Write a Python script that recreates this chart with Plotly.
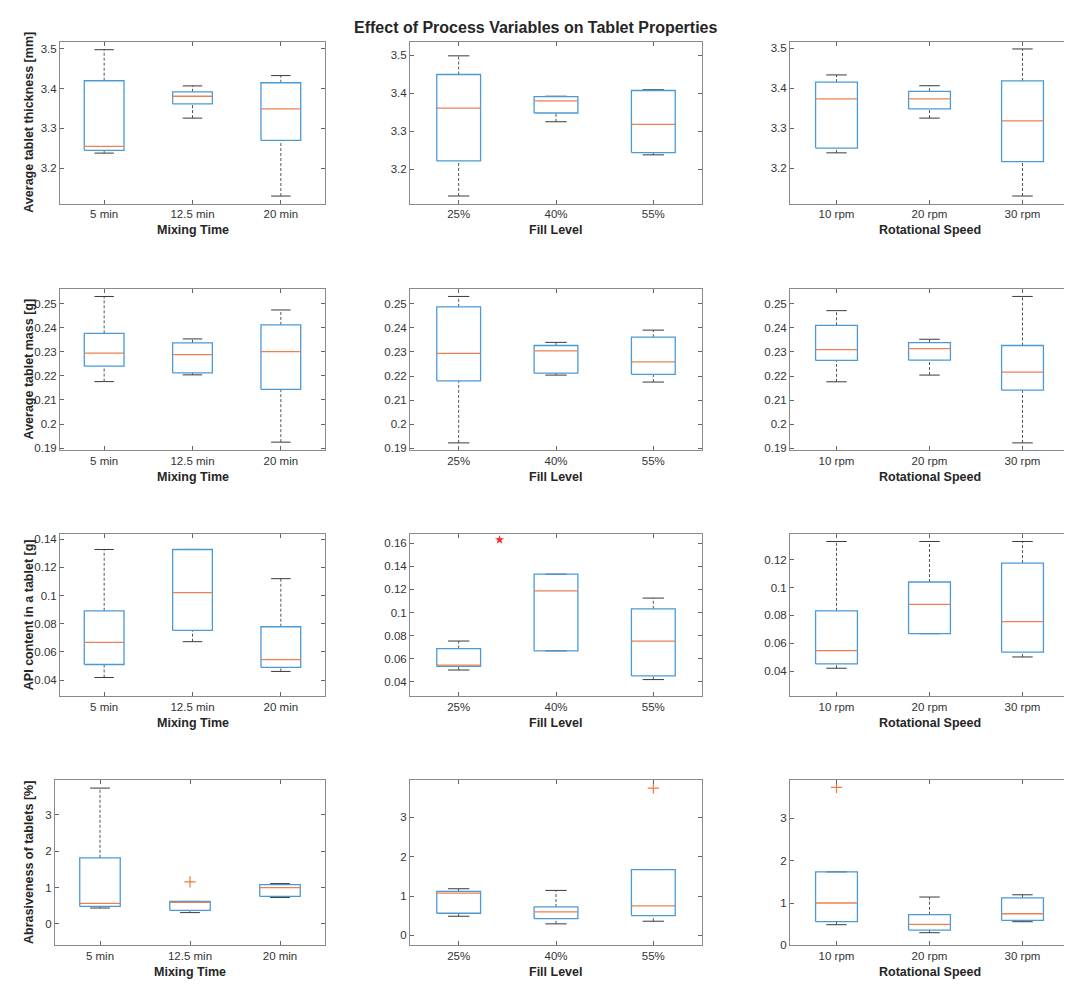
import plotly.graph_objects as go

# ---------------- data ----------------
mix_cats = ["5 min", "12.5 min", "20 min"]
fill_cats = ["25%", "40%", "55%"]
speed_cats = ["10 rpm", "20 rpm", "30 rpm"]

# each row: [lower whisker, Q1, median, Q3, upper whisker]
thick_mix = [[3.238, 3.245, 3.255, 3.420, 3.498],
             [3.326, 3.362, 3.381, 3.392, 3.407],
             [3.130, 3.270, 3.349, 3.415, 3.433]]
thick_fill = [[3.130, 3.222, 3.361, 3.449, 3.498],
              [3.325, 3.348, 3.380, 3.391, 3.392],
              [3.238, 3.244, 3.318, 3.407, 3.409]]
thick_speed = [[3.238, 3.250, 3.373, 3.415, 3.433],
               [3.325, 3.348, 3.373, 3.392, 3.406],
               [3.130, 3.216, 3.318, 3.418, 3.498]]

mass_mix = [[0.2176, 0.2240, 0.2294, 0.2376, 0.2529],
            [0.2204, 0.2212, 0.2288, 0.2337, 0.2353],
            [0.1925, 0.2144, 0.2300, 0.2411, 0.2473]]
mass_fill = [[0.1922, 0.2180, 0.2294, 0.2488, 0.2531],
             [0.2204, 0.2212, 0.2305, 0.2327, 0.2340],
             [0.2175, 0.2207, 0.2259, 0.2362, 0.2391]]
mass_speed = [[0.2176, 0.2265, 0.2310, 0.2411, 0.2472],
              [0.2204, 0.2266, 0.2314, 0.2339, 0.2353],
              [0.1922, 0.2141, 0.2216, 0.2327, 0.2531]]

api_mix = [[0.0419, 0.0511, 0.0668, 0.0892, 0.1327],
           [0.0673, 0.0753, 0.1021, 0.1327, 0.1327],
           [0.0462, 0.0491, 0.0546, 0.0779, 0.1120]]
api_fill = [[0.0502, 0.0533, 0.0545, 0.0688, 0.0753],
            [0.0668, 0.0668, 0.1187, 0.1332, 0.1332],
            [0.0419, 0.0451, 0.0753, 0.1032, 0.1125]]
api_speed = [[0.0421, 0.0452, 0.0548, 0.0833, 0.1331],
             [0.0669, 0.0669, 0.0879, 0.1040, 0.1331],
             [0.0502, 0.0536, 0.0755, 0.1176, 0.1331]]

abr_mix = [[0.436, 0.480, 0.564, 1.818, 3.736],
           [0.310, 0.373, 0.590, 0.618, 0.618],
           [0.727, 0.755, 1.000, 1.082, 1.109]]
abr_fill = [[0.487, 0.563, 1.076, 1.118, 1.185],
            [0.294, 0.429, 0.597, 0.723, 1.143],
            [0.361, 0.504, 0.748, 1.672, 1.672]]
abr_speed = [[0.487, 0.558, 1.000, 1.736, 1.736],
             [0.298, 0.361, 0.495, 0.723, 1.141],
             [0.558, 0.589, 0.746, 1.123, 1.194]]

# outliers (category position, value)
abr_mix_out_x, abr_mix_out_y = [2], [1.155]
abr_fill_out_x, abr_fill_out_y = [3], [3.736]
abr_speed_out_x, abr_speed_out_y = [1], [3.73]
# red star marker in API / fill level panel
api_fill_star_x, api_fill_star_y = [1.42], [0.163]

# tick values / labels
thick_ticks = [3.2, 3.3, 3.4, 3.5]
thick_labels = ["3.2", "3.3", "3.4", "3.5"]
mass_ticks = [0.19, 0.20, 0.21, 0.22, 0.23, 0.24, 0.25]
mass_labels = ["0.19", "0.2", "0.21", "0.22", "0.23", "0.24", "0.25"]
api_ticks = [0.04, 0.06, 0.08, 0.10, 0.12, 0.14, 0.16]
api_labels = ["0.04", "0.06", "0.08", "0.1", "0.12", "0.14", "0.16"]
abr_ticks = [0, 1, 2, 3]
abr_labels = ["0", "1", "2", "3"]

row_ylabels = ["Average tablet thickness [mm]", "Average tablet mass [g]",
               "API content in a tablet [g]", "Abrasiveness of tablets [%]"]
col_xlabels = ["Mixing Time", "Fill Level", "Rotational Speed"]
title_text = "Effect of Process Variables on Tablet Properties"

# ---------------- layout / style ----------------
W, H = 1072, 988
FONT = "Liberation Sans, Arial, Helvetica, sans-serif"
BOX_C = "#4a9ad8"
MED_C = "#ee8050"
WHISK_C = "#555555"
CAP_C = "#3a3a3a"
OUT_C = "#f07840"
STAR_C = "#ff2a2a"
BW = 0.225   # half box width
CW = 0.11    # half cap width

col_px = [(52, 317), (402, 694), (782, 1061)]
row_px = [(33, 196), (282, 444), (529, 692), (777, 943)]

panels = [
    (0, 0, thick_mix, mix_cats, [3.111, 3.518], thick_ticks, thick_labels, None),
    (0, 1, thick_fill, fill_cats, [3.110, 3.535], thick_ticks, thick_labels, None),
    (0, 2, thick_speed, speed_cats, [3.111, 3.516], thick_ticks, thick_labels, None),
    (1, 0, mass_mix, mix_cats, [0.1893, 0.2560], mass_ticks, mass_labels, None),
    (1, 1, mass_fill, fill_cats, [0.1893, 0.2562], mass_ticks, mass_labels, None),
    (1, 2, mass_speed, speed_cats, [0.1893, 0.2562], mass_ticks, mass_labels, None),
    (2, 0, api_mix, mix_cats, [0.0287, 0.1435], api_ticks, api_labels, None),
    (2, 1, api_fill, fill_cats, [0.0276, 0.1678], api_ticks, api_labels, None),
    (2, 2, api_speed, speed_cats, [0.0221, 0.1383], api_ticks, api_labels, None),
    (3, 0, abr_mix, mix_cats, [-0.59, 3.945], abr_ticks, abr_labels, (abr_mix_out_x, abr_mix_out_y)),
    (3, 1, abr_fill, fill_cats, [-0.25, 3.930], abr_ticks, abr_labels, (abr_fill_out_x, abr_fill_out_y)),
    (3, 2, abr_speed, speed_cats, [0.0, 3.895], abr_ticks, abr_labels, (abr_speed_out_x, abr_speed_out_y)),
]

fig = go.Figure()
layout_axes = {}
annotations = []

for k, (r, c, stats, cats, yr, tv, tt, outl) in enumerate(panels):
    n = k + 1
    xa = "x" if n == 1 else f"x{n}"
    ya = "y" if n == 1 else f"y{n}"
    x0, x1 = col_px[c]
    if r == 3 and c == 0:
        x0 = 47
    y0, y1 = row_px[r]

    bx, by, mx, my, wx, wy, cx, cy = [], [], [], [], [], [], [], []
    for i, (lo, q1, md, q3, hi) in enumerate(stats, start=1):
        wx += [i, i, None, i, i, None]
        wy += [q3, hi, None, lo, q1, None]
        cx += [i - CW, i + CW, None, i - CW, i + CW, None]
        cy += [hi, hi, None, lo, lo, None]
        bx += [i - BW, i + BW, i + BW, i - BW, i - BW, None]
        by += [q1, q1, q3, q3, q1, None]
        mx += [i - BW, i + BW, None]
        my += [md, md, None]

    common = dict(xaxis=xa, yaxis=ya, showlegend=False, hoverinfo="skip", mode="lines")
    fig.add_trace(go.Scatter(x=wx, y=wy, line=dict(color=WHISK_C, width=1, dash="3px,2px"), **common))
    fig.add_trace(go.Scatter(x=cx, y=cy, line=dict(color=CAP_C, width=1), **common))
    fig.add_trace(go.Scatter(x=bx, y=by, line=dict(color=BOX_C, width=1.3), **common))
    fig.add_trace(go.Scatter(x=mx, y=my, line=dict(color=MED_C, width=1.3), **common))
    if outl is not None:
        fig.add_trace(go.Scatter(x=outl[0], y=outl[1], xaxis=xa, yaxis=ya, mode="markers",
                                 marker=dict(symbol="cross-thin", size=8,
                                             line=dict(color=OUT_C, width=1.2)),
                                 showlegend=False, hoverinfo="skip"))
    if r == 2 and c == 1:
        fig.add_trace(go.Scatter(x=api_fill_star_x, y=api_fill_star_y, xaxis=xa, yaxis=ya,
                                 mode="markers",
                                 marker=dict(symbol="star", size=7, color=STAR_C),
                                 showlegend=False, hoverinfo="skip"))

    axis_common = dict(showline=True, linecolor="#8a8a8a", linewidth=1, mirror="ticks",
                       ticks="inside", ticklen=4, tickcolor="#666666", tickwidth=1,
                       showgrid=False, zeroline=False,
                       tickfont=dict(family=FONT, size=11.5, color="#333333"))
    layout_axes["xaxis" if n == 1 else f"xaxis{n}"] = dict(
        domain=[x0 / W, x1 / W], anchor=ya, range=[0.5, 3.5],
        tickmode="array", tickvals=[1, 2, 3], ticktext=cats, **axis_common)
    layout_axes["yaxis" if n == 1 else f"yaxis{n}"] = dict(
        domain=[1 - y1 / H, 1 - y0 / H], anchor=xa, range=yr,
        tickmode="array", tickvals=tv, ticktext=tt, **axis_common)

    annotations.append(dict(text=f"<b>{col_xlabels[c]}</b>", xref="paper", yref="paper",
                            x=((x0 + x1) / 2) / W, y=1 - (y1 + 27) / H,
                            xanchor="center", yanchor="middle", showarrow=False,
                            font=dict(family=FONT, size=12.5, color="#262626")))
    if c == 0:
        annotations.append(dict(text=f"<b>{row_ylabels[r]}</b>", xref="paper", yref="paper",
                                x=21 / W, y=1 - ((y0 + y1) / 2) / H, textangle=-90,
                                xanchor="center", yanchor="middle", showarrow=False,
                                font=dict(family=FONT, size=12.5, color="#262626")))

annotations.append(dict(text=f"<b>{title_text}</b>", xref="paper", yref="paper",
                        x=527 / W, y=1 - 19 / H, xanchor="center", yanchor="middle",
                        showarrow=False, font=dict(family=FONT, size=16, color="#262626")))

fig.update_layout(width=W, height=H, margin=dict(l=0, r=0, t=0, b=0),
                  paper_bgcolor="white", plot_bgcolor="white",
                  annotations=annotations, **layout_axes)

fig.write_html("out.html")
